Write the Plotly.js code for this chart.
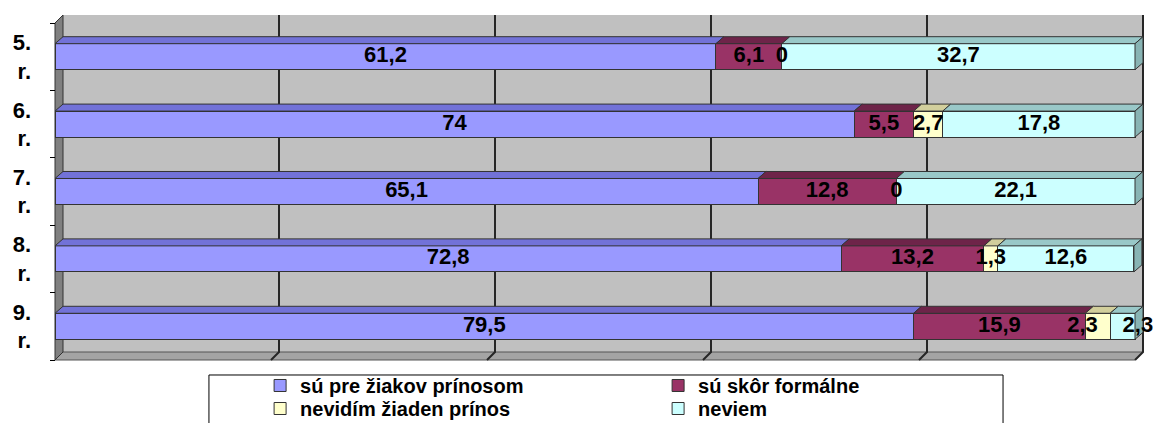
<!DOCTYPE html>
<html>
<head>
<meta charset="utf-8">
<script src="https://cdn.plot.ly/plotly-3.0.1.min.js"></script>
<style>html,body{margin:0;padding:0;background:#fff;}#chart{width:1153px;height:423px;}</style>
</head>
<body>
<div id="chart"></div>
<script>
// ---- data ----
const categories = ['5. r.', '6. r.', '7. r.', '8. r.', '9. r.'];
const seriesNames = ['sú pre žiakov prínosom', 'sú skôr formálne', 'nevidím žiaden prínos', 'neviem'];
const prinosom = [61.2, 74, 65.1, 72.8, 79.5];
const formalne = [6.1, 5.5, 12.8, 13.2, 15.9];
const nevidim = [0, 2.7, 0, 1.3, 2.3];
const neviem = [32.7, 17.8, 22.1, 12.6, 2.3];

// ---- styling ----
const series = [prinosom, formalne, nevidim, neviem];
const frontColors = ['#9999FF', '#993366', '#FFFFCC', '#CCFFFF'];
const topColors = ['#7272D8', '#6E2449', '#D2CF9C', '#99C8C8'];
const sideColor = '#88B4B4';
const legendRows = ['legend', 'legend', 'legend2', 'legend2'];
const FONT = 'Liberation Sans, Arial, sans-serif';

// geometry (pixel -> data unit conversion)
const pxX = 10.8;   // px per 1 %
const pxY = 67.4;   // px per category band
const DX = 8 / pxX, DY = 8 / pxY;       // wall depth
const BDX = 8 / pxX, BDY = 7 / pxY;     // bar depth
const BW = 0.386;                        // bar thickness
const yIdx = categories.map((c, i) => i);

const traces = [];
// front faces
series.forEach((vals, s) => {
  traces.push({
    type: 'bar', orientation: 'h', name: seriesNames[s], legend: legendRows[s],
    x: vals, y: yIdx, width: BW,
    marker: {color: frontColors[s], line: {color: '#333', width: 1}},
    hoverinfo: 'skip', textposition: 'none'
  });
});

// top faces + side faces + labels
const labX = [], labY = [], labT = [], labPos = [];
const bases = categories.map(() => 0);
series.forEach((vals, s) => {
  const px = [], py = [];
  vals.forEach((v, i) => {
    const a = bases[i], b = a + v;
    const yt = i - BW / 2;
    if (v > 0) {
      px.push(a, b, b + BDX, a + BDX, a, null);
      py.push(yt, yt, yt - BDY, yt - BDY, yt, null);
    }
    labX.push(a + v / 2);
    labY.push(i);
    labT.push(String(v).replace('.', ','));
    bases[i] = b;
  });
  traces.push({
    type: 'scatter', mode: 'lines', x: px, y: py, fill: 'toself',
    fillcolor: topColors[s], line: {color: '#333', width: 1},
    hoverinfo: 'skip', showlegend: false
  });
});
// right side faces of the stack
const sx = [], sy = [];
bases.forEach((b, i) => {
  const yt = i - BW / 2, yb = i + BW / 2;
  sx.push(b, b + BDX, b + BDX, b, b, null);
  sy.push(yt, yt - BDY, yb - BDY, yb, yt, null);
});
traces.push({
  type: 'scatter', mode: 'lines', x: sx, y: sy, fill: 'toself',
  fillcolor: sideColor, line: {color: '#333', width: 1},
  hoverinfo: 'skip', showlegend: false
});

// label placement: spread the two tiny last segments of the last row
const nCat = categories.length;
labT.forEach((t, k) => {
  const s = Math.floor(k / nCat), i = k % nCat;
  let pos = 'middle center';
  if (i === nCat - 1 && s === 2) pos = 'middle left';
  if (i === nCat - 1 && s === 3) pos = 'middle right';
  labPos.push(pos);
});
traces.push({
  type: 'scatter', mode: 'text', x: labX, y: labY, text: labT,
  textposition: labPos, cliponaxis: false,
  textfont: {family: FONT, size: 22, color: '#000', weight: 'bold'},
  hoverinfo: 'skip', showlegend: false
});

// walls, floor, gridlines
const yTop = -0.5, yBot = nCat - 0.5;
const shapes = [];
shapes.push({type: 'rect', xref: 'x', yref: 'y', layer: 'below',
  x0: DX, x1: 100 + DX, y0: yTop - DY, y1: yBot - DY,
  fillcolor: '#C0C0C0', line: {width: 0}});
shapes.push({type: 'path', xref: 'x', yref: 'y', layer: 'below',
  path: `M0,${yBot} L100,${yBot} L${100 + DX},${yBot - DY} L${DX},${yBot - DY} Z`,
  fillcolor: '#A4A4A4', line: {color: '#555', width: 1}});
shapes.push({type: 'path', xref: 'x', yref: 'y', layer: 'below',
  path: `M0,${yTop} L${DX},${yTop - DY} L${DX},${yBot - DY} L0,${yBot} Z`,
  fillcolor: '#808080', line: {color: '#333', width: 1}});
[20, 40, 60, 80, 100].forEach(v => {
  shapes.push({type: 'path', xref: 'x', yref: 'y', layer: 'below',
    path: `M${v + DX},${yTop - DY} L${v + DX},${yBot - DY} L${v},${yBot}`,
    line: {color: '#262626', width: 2}});
});
// legend frame
shapes.push({type: 'rect', xref: 'paper', yref: 'paper',
  x0: 0.1445, x1: 0.8664, y0: -0.0283, y1: -0.3,
  fillcolor: 'rgba(0,0,0,0)', line: {color: '#000', width: 1}});

const legendCommon = {orientation: 'h', x: 0.191, xanchor: 'left', yanchor: 'top',
  entrywidth: 353, entrywidthmode: 'pixels', traceorder: 'normal',
  bgcolor: 'rgba(0,0,0,0)', borderwidth: 0,
  font: {family: FONT, size: 20, color: '#000', weight: 'bold'}};

const layout = {
  width: 1153, height: 423,
  margin: {l: 50, r: 3, t: 12, b: 58, autoexpand: false},
  paper_bgcolor: '#fff', plot_bgcolor: '#fff',
  barmode: 'stack', bargap: 0,
  showlegend: true,
  font: {family: FONT, color: '#000'},
  xaxis: {range: [-5 / pxX, 100 + 15 / pxX], showgrid: false, zeroline: false,
    showticklabels: false, showline: false, ticks: '', fixedrange: true},
  yaxis: {range: [yBot + 5 / pxY, yTop - 11 / pxY], showgrid: false, zeroline: false,
    showline: false, tickmode: 'array', tickvals: yIdx,
    ticktext: categories.map(c => c.replace(' ', '<br>')),
    ticks: '', ticklabelstandoff: 18,
    tickfont: {family: FONT, size: 22, color: '#000', weight: 'bold'},
    minor: {tickmode: 'linear', tick0: -0.5, dtick: 1, ticks: 'inside', ticklen: 5,
      tickcolor: '#000', tickwidth: 1, showgrid: false},
    fixedrange: true},
  legend: Object.assign({}, legendCommon, {y: -0.0028}),
  legend2: Object.assign({}, legendCommon, {y: -0.068}),
  shapes: shapes
};

Plotly.newPlot('chart', traces, layout, {staticPlot: true, displayModeBar: false});
</script>
</body>
</html>
